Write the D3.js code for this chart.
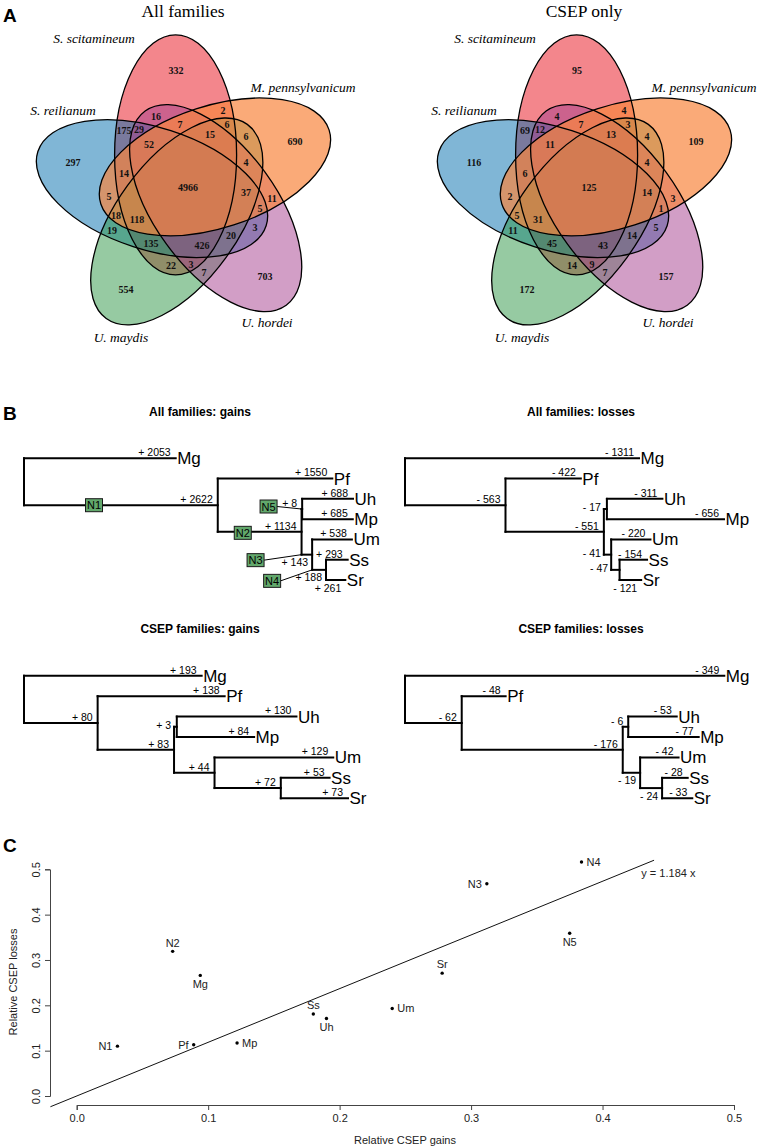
<!DOCTYPE html>
<html><head><meta charset="utf-8">
<script src="https://cdn.jsdelivr.net/npm/d3@7"></script>
<style>body{margin:0;background:#fff;} svg{display:block;}</style>
</head><body>
<svg id="fig" width="762" height="1148"></svg>
<script>
// ================= DATA =================
// Panel A: five-set Venn diagrams
const vennSets = ["Sr", "Ss", "Mp", "Uh", "Um"];
const vennSetNames = ["S. reilianum", "S. scitamineum", "M. pennsylvanicum", "U. hordei", "U. maydis"];
const vennTitles = ["All families", "CSEP only"];
const vennRegions = ["Sr","Ss","Mp","Uh","Um",
  "Sr&Ss","Sr&Mp","Sr&Uh","Sr&Um","Ss&Mp","Ss&Uh","Ss&Um","Mp&Uh","Mp&Um","Uh&Um",
  "Sr&Ss&Mp","Sr&Ss&Uh","Sr&Ss&Um","Sr&Mp&Uh","Sr&Mp&Um","Sr&Uh&Um","Ss&Mp&Uh","Ss&Mp&Um","Ss&Uh&Um","Mp&Uh&Um",
  "Sr&Ss&Mp&Uh","Sr&Ss&Mp&Um","Sr&Ss&Uh&Um","Sr&Mp&Uh&Um","Ss&Mp&Uh&Um",
  "Sr&Ss&Mp&Uh&Um"];
const allFamilies = [297,332,690,703,554, 175,5,3,19,2,16,22,11,6,7, 14,29,135,5,18,20,7,6,3,4, 52,118,426,37,15, 4966];
const csepOnly    = [116,95,109,157,172, 69,2,5,11,4,4,14,3,4,7, 6,12,45,1,5,14,7,3,9,4, 11,31,43,14,13, 125];

// Panel B: gain / loss trees
const treeBranches = ["Mg","N1","Pf","N2","N5","Uh","Mp","N3","Um","N4","Ss","Sr"];
const allGains   = [2053,2622,1550,1134,8,688,685,143,538,188,293,261];
const allLosses  = [1311,563,422,551,17,311,656,41,220,47,154,121];
const csepGains  = [193,80,138,83,3,130,84,44,129,72,53,73];
const csepLosses = [349,62,48,176,6,53,77,19,42,24,28,33];
const treeTitles = ["All families: gains","All families: losses","CSEP families: gains","CSEP families: losses"];
const treeTopology = {name:"root", children:[
  {name:"Mg"},
  {name:"N1", children:[
    {name:"Pf"},
    {name:"N2", children:[
      {name:"N5", children:[{name:"Uh"},{name:"Mp"}]},
      {name:"N3", children:[{name:"Um"},{name:"N4", children:[{name:"Ss"},{name:"Sr"}]}]}
    ]}
  ]}
]};
const annotatedNodes = ["N1","N2","N3","N4","N5"];

// Panel C: relative CSEP gains vs losses
const scatterLabels = ["N1","N2","Mg","Pf","Mp","Ss","Uh","Um","Sr","N3","N4","N5"];
const relGains  = [0.031,0.073,0.094,0.089,0.122,0.180,0.190,0.240,0.278,0.312,0.384,0.375];
const relLosses = [0.110,0.319,0.266,0.113,0.117,0.181,0.171,0.193,0.271,0.468,0.516,0.359];
const labelSide = [2,3,1,2,4,3,1,4,3,2,4,1]; // 1 below, 2 left, 3 above, 4 right
const fitSlope = 1.184;
const xTicks = [0,0.1,0.2,0.3,0.4,0.5];
const yTicks = [0,0.1,0.2,0.3,0.4,0.5];
const xTitle = "Relative CSEP gains";
const yTitle = "Relative CSEP losses";

// ================= STYLE / LAYOUT =================
const SANS = "'Liberation Sans', Arial, Helvetica, sans-serif";
const SERIF = "'Liberation Serif', 'Times New Roman', serif";
const svg = d3.select("#fig");

[["A",3,22],["B",3,420],["C",3,852]].forEach(([t,x,y]) =>
  svg.append("text").attr("x",x).attr("y",y).attr("font-family",SANS)
    .attr("font-weight","bold").attr("font-size",19).text(t));

// ---------- Venn ----------
const VA = 120, VB = 61, VD = 35, TH0 = -109;
const slot = {Ss:0, Mp:1, Uh:2, Um:3, Sr:4};
const vennColors = {Ss:"#E70D19", Sr:"#016DAD", Um:"#2D9545", Uh:"#A53D8D", Mp:"#F8863E"};
const vennAlpha  = {Ss:0.5, Sr:0.5, Um:0.5, Uh:0.5, Mp:0.7};
const drawOrder = ["Ss","Sr","Um","Uh","Mp"];
const catOffset = {Ss:[-93,-150], Mp:[116,-101], Sr:[-124,-78], Um:[-66,149], Uh:[80,134]};

function ellipseFor(s, cx, cy) {
  const k = slot[s], a = (TH0 + 72*k) * Math.PI/180;
  return {set:s, cx: cx + VD*Math.cos(a), cy: cy + VD*Math.sin(a), rot: -90 + 72*k};
}
function inside(e, x, y) {
  const r = e.rot*Math.PI/180, dx = x - e.cx, dy = y - e.cy;
  const xp = dx*Math.cos(r) + dy*Math.sin(r), yp = -dx*Math.sin(r) + dy*Math.cos(r);
  return (xp/VA)*(xp/VA) + (yp/VB)*(yp/VB) <= 1;
}
function labelPoints(E, cx, cy) {
  const R = 175, N = 2*R + 1;
  const mask = new Int16Array(N*N);
  for (let j=0;j<N;j++) for (let i=0;i<N;i++) {
    let m = 0; const x = cx - R + i, y = cy - R + j;
    E.forEach((e,b) => { if (inside(e,x,y)) m |= (1<<b); });
    mask[j*N+i] = m;
  }
  const INF = 1e9, dist = new Float32Array(N*N);
  for (let j=0;j<N;j++) for (let i=0;i<N;i++) {
    const k = j*N+i, m = mask[k];
    if (m===0 || i===0 || j===0 || i===N-1 || j===N-1 ||
        mask[k-1]!==m || mask[k+1]!==m || mask[k-N]!==m || mask[k+N]!==m) dist[k] = 0;
    else dist[k] = INF;
  }
  const S = Math.SQRT2;
  for (let j=1;j<N-1;j++) for (let i=1;i<N-1;i++) {
    const k=j*N+i; let d=dist[k];
    d=Math.min(d,dist[k-1]+1,dist[k-N]+1,dist[k-N-1]+S,dist[k-N+1]+S); dist[k]=d;
  }
  for (let j=N-2;j>0;j--) for (let i=N-2;i>0;i--) {
    const k=j*N+i; let d=dist[k];
    d=Math.min(d,dist[k+1]+1,dist[k+N]+1,dist[k+N+1]+S,dist[k+N-1]+S); dist[k]=d;
  }
  const best = {};
  for (let k=0;k<N*N;k++) {
    const m = mask[k]; if (!m) continue;
    if (!best[m] || dist[k] > best[m].d) best[m] = {d: dist[k], x: cx - R + (k%N), y: cy - R + Math.floor(k/N)};
  }
  return best;
}
function maskOf(region) {
  return region.split("&").reduce((m,s) => m | (1 << vennSets.indexOf(s)), 0);
}
function drawVenn(cx, cy, counts, title) {
  const g = svg.append("g");
  const E = vennSets.map(s => ellipseFor(s, cx, cy));
  drawOrder.forEach(s => {
    const e = E[vennSets.indexOf(s)];
    g.append("ellipse").attr("cx",e.cx).attr("cy",e.cy).attr("rx",VA).attr("ry",VB)
      .attr("transform",`rotate(${e.rot},${e.cx},${e.cy})`)
      .attr("fill",vennColors[s]).attr("fill-opacity",vennAlpha[s]).attr("stroke","none");
  });
  E.forEach(e => g.append("ellipse").attr("cx",e.cx).attr("cy",e.cy).attr("rx",VA).attr("ry",VB)
      .attr("transform",`rotate(${e.rot},${e.cx},${e.cy})`)
      .attr("fill","none").attr("stroke","#000").attr("stroke-width",1.3));
  const pts = labelPoints(E, cx, cy);
  vennRegions.forEach((r,i) => {
    const p = pts[maskOf(r)]; if (!p) return;
    g.append("text").attr("x",p.x).attr("y",p.y).attr("dy","0.35em")
      .attr("text-anchor","middle").attr("font-family",SERIF).attr("font-weight","bold")
      .attr("font-size",10).attr("fill","#111").text(counts[i]);
  });
  vennSets.forEach((s,i) => {
    const o = catOffset[s];
    g.append("text").attr("x",cx+o[0]).attr("y",cy+o[1]).attr("dy","0.35em")
      .attr("text-anchor","middle").attr("font-family",SERIF).attr("font-style","italic")
      .attr("font-size",13.5).text(vennSetNames[i]);
  });
  g.append("text").attr("x",cx-4).attr("y",17).attr("text-anchor","middle")
    .attr("font-family",SERIF).attr("font-size",17.5).text(title);
}
drawVenn(187, 188, allFamilies, vennTitles[0]);
drawVenn(588, 188, csepOnly, vennTitles[1]);

// ---------- Trees ----------
const treePanels = [
  {values:allGains,  sign:"+", x0:24,  x1:353,   y0:458.3, y1:580.0, tx:200, ty:416, below:["N3","N4","Sr"], left:[], boxes:true},
  {values:allLosses, sign:"-", x0:405, x1:724,   y0:458.3, y1:580.0, tx:581, ty:416, below:["Sr"], left:["N5","N3","N4"], boxes:false},
  {values:csepGains, sign:"+", x0:24,  x1:348,   y0:675.7, y1:798.3, tx:200, ty:633, below:[], left:["N5"], boxes:false},
  {values:csepLosses,sign:"-", x0:405, x1:724.3, y0:675.7, y1:798.3, tx:581, ty:633, below:["N3","N4"], left:[], boxes:false}
];
const boxLayout = {N1:{dx:70,dy:0,lead:false}, N2:{dx:25,dy:1,lead:false},
                   N5:{dx:-33,dy:-2.5,lead:true}, N3:{dx:-46,dy:5.5,lead:true}, N4:{dx:-40,dy:11,lead:true}};

function drawTree(P, title) {
  const g = svg.append("g");
  const valOf = {}; treeBranches.forEach((b,i) => valOf[b] = P.values[i]);
  const root = d3.hierarchy(treeTopology);
  root.eachBefore(n => { n.len = n.parent ? valOf[n.data.name] : 0; n.dist = n.parent ? n.parent.dist + n.len : 0; });
  const leaves = root.leaves();
  leaves.forEach((l,i) => l.row = i);
  root.eachAfter(n => { if (n.children) n.row = d3.mean(n.children, c => c.row); });
  const xs = d3.scaleLinear().domain([0, d3.max(leaves, l => l.dist)]).range([P.x0, P.x1]);
  const ys = d3.scaleLinear().domain([0, leaves.length-1]).range([P.y0, P.y1]);
  const line = (x1,y1,x2,y2,w) => g.append("line").attr("x1",x1).attr("y1",y1).attr("x2",x2).attr("y2",y2)
      .attr("stroke","#000").attr("stroke-width",w||2).attr("stroke-linecap","square");
  root.descendants().forEach(n => {
    if (n.parent) line(xs(n.parent.dist), ys(n.row), xs(n.dist), ys(n.row));
    if (n.children) line(xs(n.dist), ys(n.children[0].row), xs(n.dist), ys(n.children[n.children.length-1].row));
  });
  root.descendants().forEach(n => {
    if (!n.parent) return;
    const name = n.data.name, y = ys(n.row), lab = P.sign + " " + n.len;
    let tx, ty;
    if (P.left.includes(name)) { tx = xs(n.parent.dist) - 3; ty = y + 2; }
    else if (P.below.includes(name)) { tx = xs(n.dist) - 4; ty = y + 11.5; }
    else { tx = xs(n.dist) - 5; ty = y - 2.2; }
    g.append("text").attr("x",tx).attr("y",ty).attr("text-anchor","end")
      .attr("font-family",SANS).attr("font-size",10.5).text(lab);
    if (!n.children) g.append("text").attr("x",xs(n.dist)+1.5).attr("y",y+6)
      .attr("font-family",SANS).attr("font-size",17).text(name);
  });
  g.append("text").attr("x",P.tx).attr("y",P.ty).attr("text-anchor","middle")
    .attr("font-family",SANS).attr("font-weight","bold").attr("font-size",12).text(title);
  if (P.boxes) {
    root.descendants().filter(n => annotatedNodes.includes(n.data.name)).forEach(n => {
      const L = boxLayout[n.data.name], sx = xs(n.parent.dist), sy = ys(n.row);
      const bx = sx + L.dx, by = sy + L.dy;
      if (L.lead) line(bx + 8.5, by, sx, sy, 1).attr("stroke-linecap","butt");
      g.append("rect").attr("x",bx-8.5).attr("y",by-6.5).attr("width",17).attr("height",13)
        .attr("fill","#62A86C").attr("stroke","#1a1a1a").attr("stroke-width",1);
      g.append("text").attr("x",bx).attr("y",by+4).attr("text-anchor","middle")
        .attr("font-family",SANS).attr("font-size",11).text(n.data.name);
    });
  }
}
treePanels.forEach((P,i) => drawTree(P, treeTitles[i]));

// ---------- Scatter ----------
const sx = d3.scaleLinear().domain([0,0.5]).range([76.7,734]);
const sy = d3.scaleLinear().domain([0,0.5]).range([1096,869.3]);
const usr = [-0.02, 0.52];
const sg = svg.append("g");
const xAxis = sg.append("g").attr("transform","translate(0,1105)")
  .call(d3.axisBottom(sx).tickValues(xTicks).tickFormat(d3.format(".1f")).tickSizeOuter(0).tickSize(5).tickPadding(4));
const yAxis = sg.append("g").attr("transform","translate(50,0)")
  .call(d3.axisLeft(sy).tickValues(yTicks).tickFormat(d3.format(".1f")).tickSizeOuter(0).tickSize(5));
[xAxis, yAxis].forEach(a => {
  a.selectAll("path,line").attr("stroke","#444");
  a.selectAll("text").attr("font-family",SANS).attr("font-size",11).attr("fill","#222");
});
yAxis.selectAll(".tick text").attr("transform","rotate(-90)").attr("x",0).attr("y",-14)
  .attr("dy","0").attr("dominant-baseline","central").attr("text-anchor","middle");
sg.append("text").attr("x",405).attr("y",1144).attr("text-anchor","middle")
  .attr("font-family",SANS).attr("font-size",11).attr("fill","#222").text(xTitle);
sg.append("text").attr("transform","translate(17,982) rotate(-90)").attr("text-anchor","middle")
  .attr("font-family",SANS).attr("font-size",11).attr("fill","#222").text(yTitle);
// fitted line, clipped to plotting region
const xEnd = Math.min(usr[1], usr[1]/fitSlope);
sg.append("line").attr("x1",sx(usr[0])).attr("y1",sy(usr[0]*fitSlope))
  .attr("x2",sx(xEnd)).attr("y2",sy(xEnd*fitSlope)).attr("stroke","#111").attr("stroke-width",1);
sg.append("text").attr("x",sx(0.4295)).attr("y",sy(0.492)).attr("dy","0.35em")
  .attr("font-family",SANS).attr("font-size",11).attr("fill","#222").text("y = " + fitSlope + " x");
scatterLabels.forEach((lab,i) => {
  const px = sx(relGains[i]), py = sy(relLosses[i]);
  sg.append("circle").attr("cx",px).attr("cy",py).attr("r",1.7).attr("fill","#000");
  const side = labelSide[i];
  let tx = px, ty = py, anc = "middle";
  if (side===1) ty = py + 9; else if (side===3) ty = py - 8.5;
  else if (side===2) { tx = px - 5; anc = "end"; } else { tx = px + 5; anc = "start"; }
  sg.append("text").attr("x",tx).attr("y",ty).attr("dy","0.35em").attr("text-anchor",anc)
    .attr("font-family",SANS).attr("font-size",11).attr("fill","#222").text(lab);
});
</script>
</body></html>
